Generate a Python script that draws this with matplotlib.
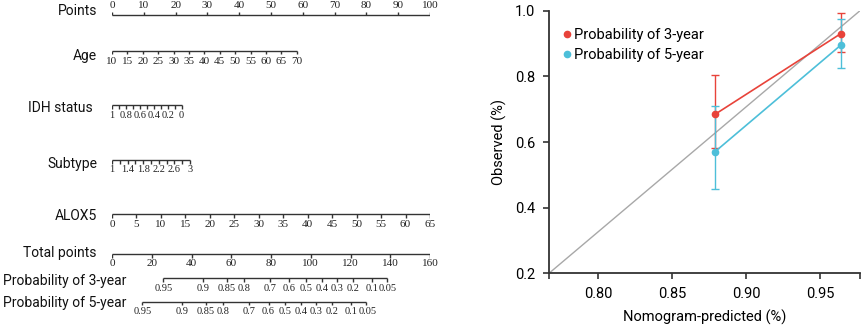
import matplotlib.pyplot as plt
from matplotlib.lines import Line2D

# ---- nomogram data (positions, in "points" units 0-100) ----
points_ticks = [0, 10, 20, 30, 40, 50, 60, 70, 80, 90, 100]

age_ticks = [10, 15, 20, 25, 30, 35, 40, 45, 50, 55, 60, 65, 70]
age_span_points = 58.1          # points at age 70 (age 10 -> 0)

idh_ticks = [1, 0.9, 0.8, 0.7, 0.6, 0.5, 0.4, 0.3, 0.2, 0.1, 0]
idh_labels = ['1', '0.8', '0.6', '0.4', '0.2', '0']
idh_span_points = 21.9

subtype_ticks = [1, 1.2, 1.4, 1.6, 1.8, 2.0, 2.2, 2.4, 2.6, 2.8, 3]
subtype_labels = ['1', '1.4', '1.8', '2.2', '2.6', '3']
subtype_span_points = 24.5

alox5_ticks = [0, 5, 10, 15, 20, 25, 30, 35, 40, 45, 50, 55, 60, 65]
alox5_span_points = 100

total_ticks = [0, 20, 40, 60, 80, 100, 120, 140, 160]
total_max = 160

prob_labels = ['0.95', '0.9', '0.85', '0.8', '0.7', '0.6', '0.5', '0.4', '0.3', '0.2', '0.1', '0.05']
prob3_total = [25.8, 45.7, 57.7, 66.4, 79.5, 89.3, 97.6, 105.5, 113.0, 121.1, 131.0, 138.2]
prob5_total = [15.3, 35.2, 47.2, 55.9, 69.0, 78.8, 87.1, 95.0, 102.5, 110.6, 120.5, 127.7]

# ---- calibration data ----
pred = [0.879, 0.964]
obs_3y = [0.684, 0.930]
lo_3y = [0.582, 0.873]
hi_3y = [0.804, 0.993]
obs_5y = [0.570, 0.895]
lo_5y = [0.458, 0.824]
hi_5y = [0.709, 0.975]

RED = '#e8433a'
BLUE = '#4dbfd9'
SANS = ['Roboto', 'DejaVu Sans']
SERIF = ['Liberation Serif', 'DejaVu Serif']
LINE = '#333333'
FS = 10

W, H = 865, 328
fig = plt.figure(figsize=(W / 100, H / 100), dpi=100)

# nomogram axes: x in points (0..100 spans pixel 112..430), y in pixels
ax = fig.add_axes([112 / W, 0, (430 - 112) / W, 1])
ax.set_xlim(0, 100)
ax.set_ylim(H, 0)
ax.axis('off')


def lin(vals, span):
    v0, v1 = vals[0], vals[-1]
    return [(v - v0) / (v1 - v0) * span for v in vals]


def draw_row(y, xs, labels, label_xs, up=False, tick=3.5, lab_off=10, fs=8):
    ax.hlines(y, xs[0], xs[-1], color=LINE, lw=1)
    d = -tick if up else tick
    ax.vlines(xs, y, y + d, color=LINE, lw=1)
    ly = y - lab_off if up else y + lab_off
    n = len(labels)
    for i, (x, t) in enumerate(zip(label_xs, labels)):
        ha = 'center'
        # the last two probability labels sit very close together
        if t == '0.1' and i == n - 2:
            ha = 'right'
            x = x + 2.0
        elif t == '0.05' and i == n - 1:
            ha = 'left'
            x = x - 2.4
        ax.text(x, ly, t, ha=ha, va='center', fontsize=fs,
                family=SERIF, color='#222222', clip_on=False)


def row_name(y, text, x_px=97, ha='right'):
    x = (x_px - 112) / 318 * 100
    ax.text(x, y, text, ha=ha, va='center', fontsize=FS, family=SANS,
            color='#111111', clip_on=False)


# Points
draw_row(15, points_ticks, [str(t) for t in points_ticks], points_ticks, up=True, lab_off=9.5)
row_name(11, 'Points')

# Age
ax_age = lin(age_ticks, age_span_points)
draw_row(50.7, ax_age, [str(t) for t in age_ticks], ax_age, lab_off=11)
row_name(56, 'Age')

# IDH status
x_idh = lin(idh_ticks, idh_span_points)
draw_row(105, x_idh, idh_labels, x_idh[::2], fs=7.5)
row_name(108, 'IDH status', x_px=93)

# Subtype
x_sub = lin(subtype_ticks, subtype_span_points)
draw_row(160, x_sub, subtype_labels, x_sub[::2], lab_off=9.5, fs=7.5)
row_name(164, 'Subtype')

# ALOX5
x_alox = lin(alox5_ticks, alox5_span_points)
draw_row(214.3, x_alox, [str(t) for t in alox5_ticks], x_alox, lab_off=10.5)
row_name(216, 'ALOX5')

# Total points
x_tot = [t / total_max * 100 for t in total_ticks]
draw_row(254.3, x_tot, [str(t) for t in total_ticks], x_tot, lab_off=9.5)
row_name(252.7, 'Total points')

# Probability rows
x_p3 = [t / total_max * 100 for t in prob3_total]
draw_row(278.3, x_p3, prob_labels, x_p3, fs=7.5)
row_name(281, 'Probability of 3-year', x_px=3, ha='left')

x_p5 = [t / total_max * 100 for t in prob5_total]
draw_row(301.7, x_p5, prob_labels, x_p5, lab_off=9.5, fs=7.5)
row_name(302.7, 'Probability of 5-year', x_px=3, ha='left')

# ---- calibration plot ----
cx = fig.add_axes([549 / W, (H - 273.3) / H, (860 - 549) / W, (273.3 - 10.7) / H])
cx.set_xlim(0.767, 0.977)
cx.set_ylim(0.2, 1.0)
cx.plot([0, 1], [0, 1], transform=cx.transAxes, color='#a8a8a8', lw=1)

cx.errorbar(pred, obs_3y, yerr=[[o - l for o, l in zip(obs_3y, lo_3y)],
                                [h - o for o, h in zip(obs_3y, hi_3y)]],
            color=RED, ecolor=RED, elinewidth=1, capsize=3, lw=1.2,
            marker='o', ms=4.5, zorder=3)
cx.errorbar(pred, obs_5y, yerr=[[o - l for o, l in zip(obs_5y, lo_5y)],
                                [h - o for o, h in zip(obs_5y, hi_5y)]],
            color=BLUE, ecolor=BLUE, elinewidth=1, capsize=3, lw=1.2,
            marker='o', ms=4.5, zorder=3)

for s in ['top', 'right']:
    cx.spines[s].set_visible(False)
for s in ['left', 'bottom']:
    cx.spines[s].set_color('#333333')
    cx.spines[s].set_linewidth(1.3)

cx.set_xticks([0.80, 0.85, 0.90, 0.95])
cx.set_xticklabels(['0.80', '0.85', '0.90', '0.95'])
cx.set_xticks([0.767, 0.977], minor=True)
cx.set_yticks([0.2, 0.4, 0.6, 0.8, 1.0])
cx.set_yticklabels(['0.2', '0.4', '0.6', '0.8', '1.0'])
cx.tick_params(which='both', direction='out', length=4, width=1.2, color='#333333',
               labelsize=FS + 0.5)
cx.tick_params(axis='x', pad=6)
cx.tick_params(axis='y', pad=6)
for lab in cx.get_xticklabels() + cx.get_yticklabels():
    lab.set_family(SANS)
cx.set_xlabel('Nomogram-predicted (%)', fontsize=FS + 0.5, family=SANS, labelpad=6)
cx.set_ylabel('Observed (%)', fontsize=FS + 0.5, family=SANS, labelpad=6)

handles = [Line2D([], [], color=RED, marker='o', ls='none', ms=4.5),
           Line2D([], [], color=BLUE, marker='o', ls='none', ms=4.5)]
cx.legend(handles, ['Probability of 3-year', 'Probability of 5-year'],
          loc='upper left', bbox_to_anchor=(0.0, 0.985), frameon=False,
          handlelength=0.6, handletextpad=0.2, labelspacing=0.45,
          prop={'family': SANS, 'size': FS + 0.5})

fig.savefig('out.png', dpi=100)
